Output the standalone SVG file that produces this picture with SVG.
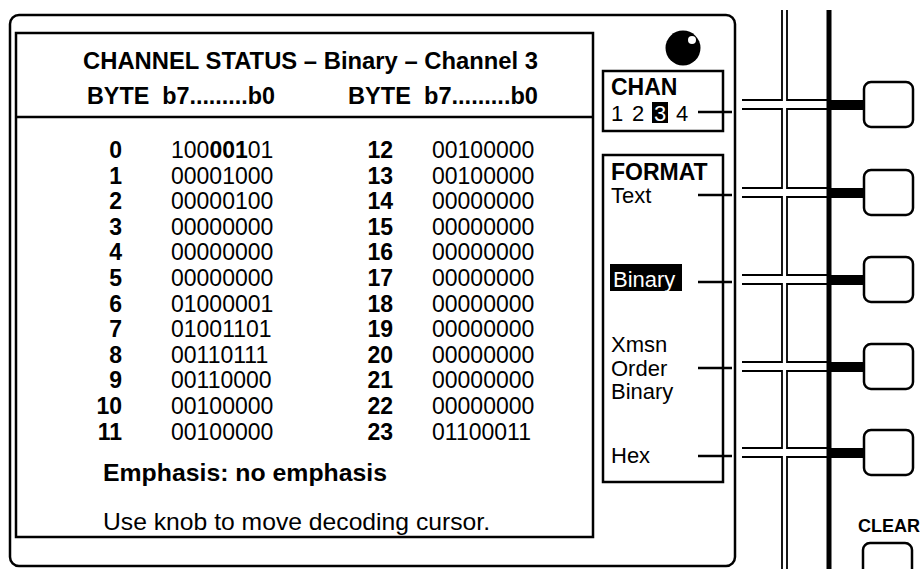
<svg xmlns="http://www.w3.org/2000/svg" width="920" height="569" viewBox="0 0 920 569">
<style>
text{font-family:"Liberation Sans",Arial,Helvetica,sans-serif;fill:#000}
.t{font-size:23.5px;font-weight:bold}
.h{font-size:23px;font-weight:bold;white-space:pre}
.n{font-size:23px;font-weight:bold;text-anchor:end}
.d{font-size:23px}
.m{font-size:24px}
.mb{font-size:24px;font-weight:bold}
.p{font-size:22px}
.pb{font-size:23px;font-weight:bold}
.box{fill:none;stroke:#000;stroke-width:2.5}
.thin{fill:none;stroke:#000;stroke-width:1.8}
.btn{fill:#fff;stroke:#000;stroke-width:2.5}
.con{stroke:#000;stroke-width:2.5}
</style>
<rect width="920" height="569" fill="#fff"/>
<g id="frame">
<rect class="box" x="10" y="15" width="725" height="551" rx="9"/>
</g>
<g id="screen">
<rect class="box" x="16" y="33" width="577" height="504" stroke-width="3"/>
<line class="con" x1="16" y1="117" x2="593" y2="117"/>
<text class="t" x="83" y="69" textLength="455" lengthAdjust="spacingAndGlyphs">CHANNEL STATUS – Binary – Channel 3</text>
<text class="h" x="87" y="104" textLength="188" lengthAdjust="spacingAndGlyphs">BYTE  b7.........b0</text>
<text class="h" x="348" y="104" textLength="190" lengthAdjust="spacingAndGlyphs">BYTE  b7.........b0</text>
<g id="col1">
<text class="n" x="122" y="158">0</text><text class="d" x="171" y="158">100<tspan font-weight="bold">001</tspan>01</text>
<text class="n" x="122" y="183.6">1</text><text class="d" x="171" y="183.6">00001000</text>
<text class="n" x="122" y="209.2">2</text><text class="d" x="171" y="209.2">00000100</text>
<text class="n" x="122" y="234.8">3</text><text class="d" x="171" y="234.8">00000000</text>
<text class="n" x="122" y="260.4">4</text><text class="d" x="171" y="260.4">00000000</text>
<text class="n" x="122" y="286">5</text><text class="d" x="171" y="286">00000000</text>
<text class="n" x="122" y="311.6">6</text><text class="d" x="171" y="311.6">01000001</text>
<text class="n" x="122" y="337.2">7</text><text class="d" x="171" y="337.2">01001101</text>
<text class="n" x="122" y="362.8">8</text><text class="d" x="171" y="362.8">00110111</text>
<text class="n" x="122" y="388.4">9</text><text class="d" x="171" y="388.4">00110000</text>
<text class="n" x="122" y="414">10</text><text class="d" x="171" y="414">00100000</text>
<text class="n" x="122" y="439.6">11</text><text class="d" x="171" y="439.6">00100000</text>
</g>
<g id="col2">
<text class="n" x="393" y="158">12</text><text class="d" x="432" y="158">00100000</text>
<text class="n" x="393" y="183.6">13</text><text class="d" x="432" y="183.6">00100000</text>
<text class="n" x="393" y="209.2">14</text><text class="d" x="432" y="209.2">00000000</text>
<text class="n" x="393" y="234.8">15</text><text class="d" x="432" y="234.8">00000000</text>
<text class="n" x="393" y="260.4">16</text><text class="d" x="432" y="260.4">00000000</text>
<text class="n" x="393" y="286">17</text><text class="d" x="432" y="286">00000000</text>
<text class="n" x="393" y="311.6">18</text><text class="d" x="432" y="311.6">00000000</text>
<text class="n" x="393" y="337.2">19</text><text class="d" x="432" y="337.2">00000000</text>
<text class="n" x="393" y="362.8">20</text><text class="d" x="432" y="362.8">00000000</text>
<text class="n" x="393" y="388.4">21</text><text class="d" x="432" y="388.4">00000000</text>
<text class="n" x="393" y="414">22</text><text class="d" x="432" y="414">00000000</text>
<text class="n" x="393" y="439.6">23</text><text class="d" x="432" y="439.6">01100011</text>
</g>
<text class="mb" x="103" y="481" textLength="284" lengthAdjust="spacingAndGlyphs">Emphasis: no emphasis</text>
<text class="m" x="103" y="530" textLength="387" lengthAdjust="spacingAndGlyphs">Use knob to move decoding cursor.</text>
</g>
<g id="knob">
<circle cx="683" cy="48" r="17.5" fill="#000"/>
<circle cx="692" cy="40" r="4" fill="#fff"/>
</g>
<g id="chan">
<rect class="box" x="603" y="71" width="120" height="60"/>
<text class="pb" x="611" y="95">CHAN</text>
<text class="p" x="611" y="121">1</text>
<text class="p" x="632" y="121">2</text>
<rect x="652" y="102" width="16" height="21" fill="#000"/>
<text class="p" x="654" y="121" style="fill:#fff">3</text>
<text class="p" x="676" y="121">4</text>
</g>
<g id="format">
<rect class="box" x="603" y="155" width="120" height="327"/>
<text class="pb" x="611" y="180">FORMAT</text>
<text class="p" x="611" y="203">Text</text>
<rect x="610" y="264" width="72" height="27" fill="#000"/>
<text class="p" x="613" y="287" style="fill:#fff">Binary</text>
<text class="p" x="611" y="352">Xmsn</text>
<text class="p" x="611" y="376">Order</text>
<text class="p" x="611" y="399">Binary</text>
<text class="p" x="611" y="463">Hex</text>
</g>
<g id="connectors">
<line class="con" x1="698" y1="112" x2="732" y2="112"/>
<line class="con" x1="698" y1="195" x2="732" y2="195"/>
<line class="con" x1="698" y1="282" x2="732" y2="282"/>
<line class="con" x1="698" y1="368" x2="732" y2="368"/>
<line class="con" x1="698" y1="456" x2="732" y2="456"/>
</g>
<g id="grid">
<path class="thin" d="M782 10V100H742M787 10V100H828M742 109H782V188H742M828 109H787V188H828M742 197H782V275H742M828 197H787V275H828M742 284H782V362H742M828 284H787V362H828M742 371H782V448H742M828 371H787V448H828M742 457H782V569M828 457H787V569"/>
<rect x="826.5" y="10" width="5" height="559" fill="#000"/>
<rect x="829" y="100" width="37" height="10" fill="#000"/>
<rect x="829" y="188" width="37" height="10" fill="#000"/>
<rect x="829" y="275" width="37" height="10" fill="#000"/>
<rect x="829" y="362" width="37" height="10" fill="#000"/>
<rect x="829" y="448" width="37" height="10" fill="#000"/>
</g>
<g id="buttons">
<rect class="btn" x="864" y="82" width="49" height="45" rx="7"/>
<rect class="btn" x="864" y="170" width="49" height="45" rx="7"/>
<rect class="btn" x="864" y="257" width="49" height="45" rx="7"/>
<rect class="btn" x="864" y="344" width="49" height="45" rx="7"/>
<rect class="btn" x="864" y="430" width="49" height="45" rx="7"/>
<text class="mb" x="858" y="532" style="font-size:18px">CLEAR</text>
<rect class="btn" x="863" y="543" width="49" height="40" rx="7"/>
</g>
</svg>
